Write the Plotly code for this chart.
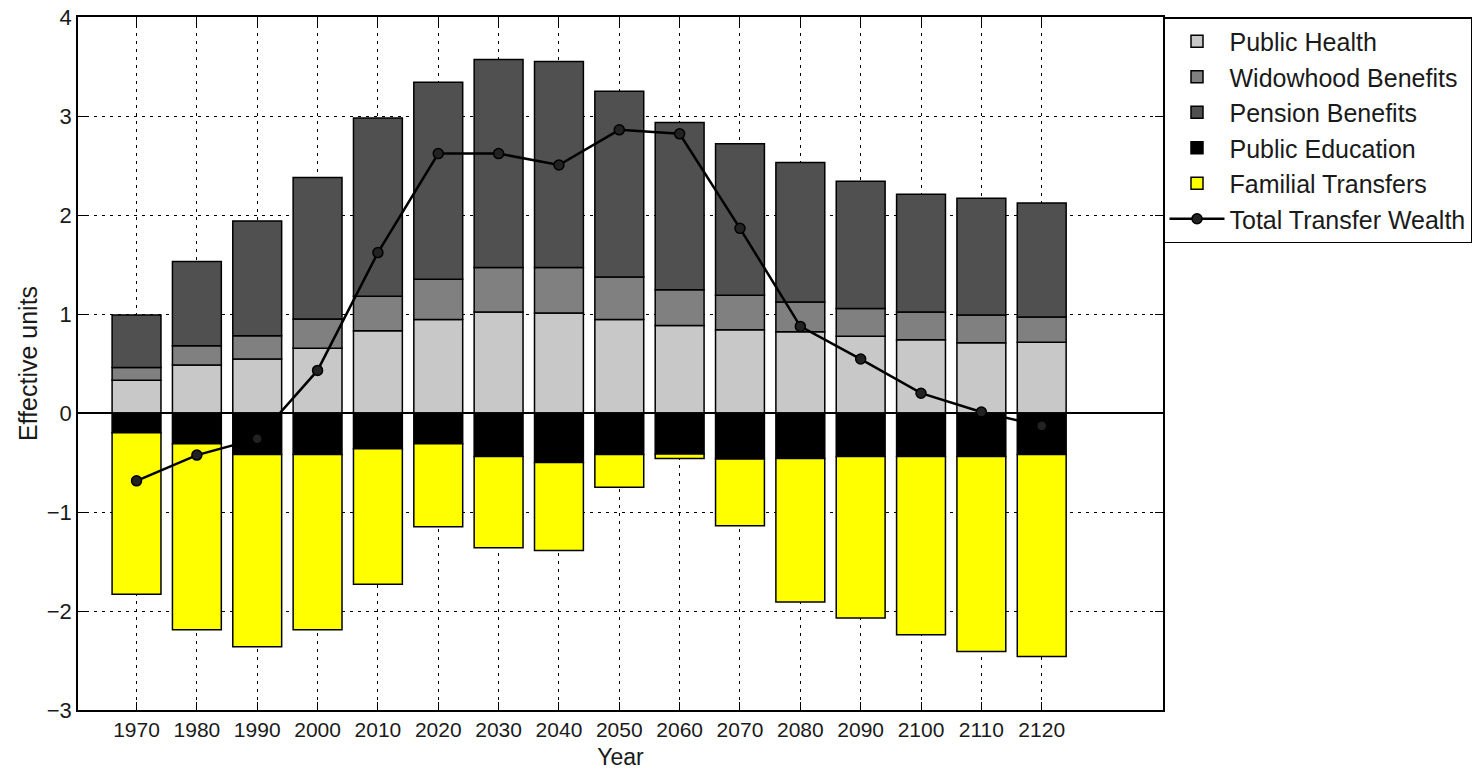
import plotly.graph_objects as go

years = [1970, 1980, 1990, 2000, 2010, 2020, 2030, 2040, 2050, 2060, 2070, 2080, 2090, 2100, 2110, 2120]

public_health = [0.33, 0.485, 0.545, 0.655, 0.83, 0.945, 1.02, 1.01, 0.945, 0.885, 0.84, 0.82, 0.775, 0.74, 0.71, 0.715]
widowhood = [0.13, 0.195, 0.235, 0.295, 0.35, 0.405, 0.45, 0.46, 0.43, 0.36, 0.35, 0.30, 0.28, 0.28, 0.28, 0.255]
pension = [0.53, 0.85, 1.16, 1.43, 1.80, 1.99, 2.10, 2.08, 1.875, 1.69, 1.53, 1.41, 1.285, 1.19, 1.18, 1.15]
education = [-0.20, -0.31, -0.42, -0.42, -0.36, -0.31, -0.44, -0.50, -0.42, -0.415, -0.465, -0.46, -0.44, -0.44, -0.44, -0.42]
familial = [-1.63, -1.88, -1.94, -1.77, -1.37, -0.84, -0.92, -0.89, -0.33, -0.045, -0.675, -1.45, -1.63, -1.80, -1.97, -2.04]
total_wealth = [-0.685, -0.425, -0.26, 0.43, 1.62, 2.62, 2.62, 2.505, 2.86, 2.82, 1.865, 0.875, 0.545, 0.2, 0.01, -0.13]

y_ticks = [-3, -2, -1, 0, 1, 2, 3, 4]

FONT = "Liberation Sans, Arial, sans-serif"
BAR_W = 8.1
outline = dict(color="black", width=1.5)

fig = go.Figure()
series = [
    ("Public Health", public_health, "#c8c8c8"),
    ("Widowhood Benefits", widowhood, "#808080"),
    ("Pension Benefits", pension, "#505050"),
    ("Public Education", education, "#000000"),
    ("Familial Transfers", familial, "#ffff00"),
]
for name, vals, col in series:
    fig.add_trace(go.Bar(x=years, y=vals, name=name, width=BAR_W,
                         marker=dict(color=col, line=outline)))

fig.add_trace(go.Scatter(x=years, y=total_wealth, name="Total Transfer Wealth",
                         mode="lines+markers",
                         line=dict(color="black", width=2.5),
                         marker=dict(color="#222", size=10, symbol="circle",
                                     line=dict(color="black", width=1.5))))

fig.update_layout(
    width=1475, height=770,
    barmode="relative",
    plot_bgcolor="white", paper_bgcolor="white",
    margin=dict(l=78, r=312, t=17, b=60, autoexpand=False),
    font=dict(family=FONT, size=21, color="#1a1a1a"),
    legend=dict(x=1.0, xanchor="left", y=1.0, yanchor="top",
                traceorder="normal", bgcolor="white",
                bordercolor="black", borderwidth=1.5,
                font=dict(size=25, family=FONT, color="#1a1a1a"),
                itemwidth=55, tracegroupgap=0),
    showlegend=True,
)
fig.update_xaxes(
    range=[1960.3, 2140.1], tickvals=years, ticktext=[str(y) for y in years],
    automargin=False,
    showline=True, linecolor="black", linewidth=1.5, mirror="ticks",
    ticks="inside", ticklen=8, tickcolor="black", tickwidth=1.2,
    showgrid=True, gridcolor="black", gridwidth=1, griddash="3px,5px",
    zeroline=False,
    title=dict(text="Year", font=dict(size=23), standoff=9),
    tickfont=dict(size=21),
)
fig.update_yaxes(
    range=[-3, 4], tickvals=y_ticks, automargin=False,
    showline=True, linecolor="black", linewidth=1.5, mirror="ticks",
    ticks="inside", ticklen=8, tickcolor="black", tickwidth=1.2,
    showgrid=True, gridcolor="black", gridwidth=1, griddash="3px,5px",
    zeroline=True, zerolinecolor="black", zerolinewidth=1.5,
    title=dict(text="Effective units", font=dict(size=25), standoff=2),
    tickfont=dict(size=22),
)

fig.write_html("out.html")
